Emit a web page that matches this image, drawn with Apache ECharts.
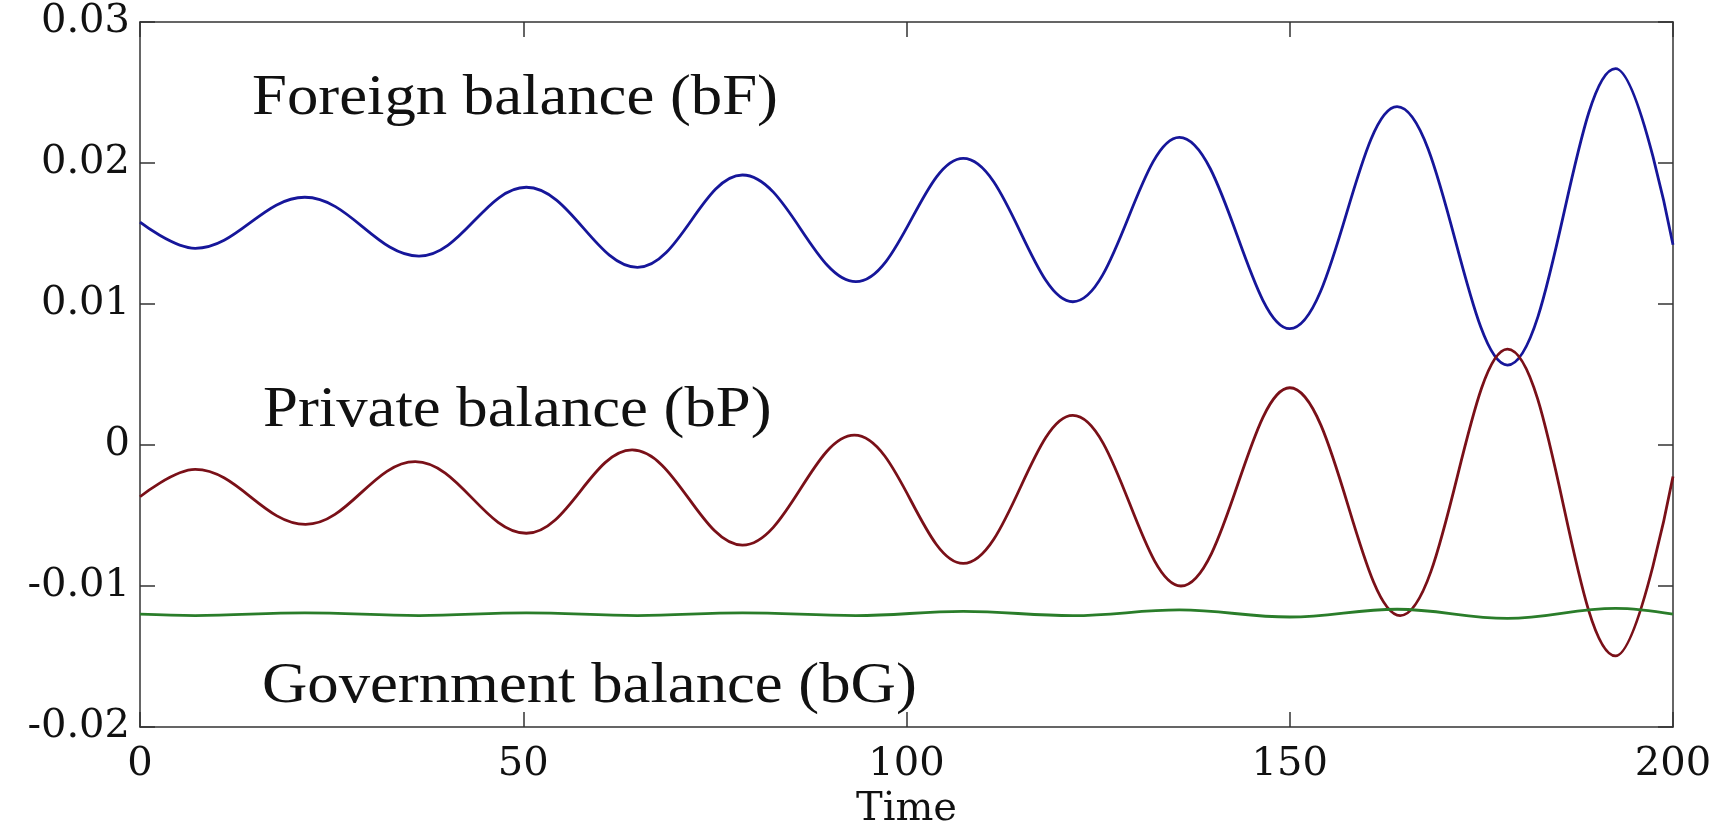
<!DOCTYPE html>
<html>
<head>
<meta charset="utf-8">
<title>Sectoral balances</title>
<script src="https://cdn.jsdelivr.net/npm/echarts@6/dist/echarts.min.js"></script>
<style>
  html, body { margin: 0; padding: 0; background: #fff; }
  #chart { width: 1721px; height: 826px; }
</style>
</head>
<body>
<div id="chart"></div>
<script>
// turning points: time, then balance
const timeF = [0, 7.2, 21.5, 36.4, 50.4, 64.9, 78.6, 93.4, 107.4, 121.7, 135.6, 150, 164, 178.4, 192.5, 200]
const foreign = [0.0158, 0.01395, 0.01757, 0.0134, 0.01828, 0.0126, 0.01915, 0.01158, 0.02033, 0.01016, 0.02182, 0.00825, 0.024, 0.00567, 0.0267, 0.0142]

const timeP = [0, 7.2, 21.6, 35.9, 50.4, 64.2, 78.6, 93.2, 107.4, 121.7, 135.8, 150, 164.4, 178.4, 192.5, 200]
const privateBal = [-0.00367, -0.00173, -0.00563, -0.00118, -0.00626, -0.00035, -0.0071, 0.0007, -0.0084, 0.0021, -0.01, 0.00406, -0.0121, 0.0068, -0.01496, -0.00224]

const timeG = [0, 7.2, 21.5, 36.4, 50.4, 64.9, 78.6, 93.4, 107.4, 121.7, 135.6, 150, 164, 178.4, 192.5, 200]
const government = [-0.012, -0.0121, -0.0119, -0.0121, -0.0119, -0.0121, -0.0119, -0.0121, -0.0118, -0.0121, -0.0117, -0.0122, -0.01165, -0.0123, -0.01158, -0.012]

const xTickLabels = ['0', '50', '100', '150', '200']
const yTickLabels = ['-0.02', '-0.01', '0', '0.01', '0.02', '0.03']

const pairs = (ts, vs) => ts.map((t, i) => [t, vs[i]])

const chart = echarts.init(document.getElementById('chart'))

const tickFont = {
  fontFamily: 'DejaVu Serif',
  fontSize: 40,
  color: '#111',
}

const frameLine = { show: true, onZero: false, lineStyle: { color: '#333', width: 1.5 } }
const frameTick = { inside: true, length: 15, lineStyle: { color: '#333', width: 1.5 } }

const lineCommon = {
  type: 'line',
  smooth: 0.38,
  showSymbol: false,
  symbol: 'none',
}

// in-plot labels, a bit stretched sideways like the original
const labelText = (text, x, y) => ({
  type: 'text',
  x: x,
  y: y,
  scaleX: 1.12,
  style: {
    text: text,
    fontFamily: 'Liberation Serif',
    fontSize: 56,
    fill: '#111',
    textAlign: 'left',
    textVerticalAlign: 'middle',
  },
})

chart.setOption({
  animation: false,
  grid: {
    left: 140,
    right: 48,
    top: 22,
    bottom: 99,
    outerBoundsMode: 'none',
    containLabel: false,
  },
  xAxis: [
    {
      type: 'value',
      position: 'bottom',
      min: 0,
      max: 200,
      interval: 50,
      name: 'Time',
      nameLocation: 'middle',
      nameGap: 61,
      nameTextStyle: { fontFamily: 'DejaVu Serif', fontSize: 40, color: '#111' },
      axisLine: frameLine,
      axisTick: frameTick,
      axisLabel: { ...tickFont, margin: 18, formatter: (v, i) => xTickLabels[i] },
      splitLine: { show: false },
    },
    {
      type: 'value',
      position: 'top',
      min: 0,
      max: 200,
      interval: 50,
      axisLine: frameLine,
      axisTick: frameTick,
      axisLabel: { show: false },
      splitLine: { show: false },
    },
  ],
  yAxis: [
    {
      type: 'value',
      position: 'left',
      min: -0.02,
      max: 0.03,
      interval: 0.01,
      axisLine: frameLine,
      axisTick: frameTick,
      axisLabel: { ...tickFont, margin: 10, formatter: (v, i) => yTickLabels[i] },
      splitLine: { show: false },
    },
    {
      type: 'value',
      position: 'right',
      min: -0.02,
      max: 0.03,
      interval: 0.01,
      axisLine: frameLine,
      axisTick: frameTick,
      axisLabel: { show: false },
      splitLine: { show: false },
    },
  ],
  series: [
    {
      ...lineCommon,
      name: 'Foreign balance (bF)',
      data: pairs(timeF, foreign),
      lineStyle: { color: '#16169a', width: 2.8 },
    },
    {
      ...lineCommon,
      name: 'Private balance (bP)',
      data: pairs(timeP, privateBal),
      lineStyle: { color: '#7a1018', width: 2.8 },
    },
    {
      ...lineCommon,
      name: 'Government balance (bG)',
      data: pairs(timeG, government),
      lineStyle: { color: '#2a7d2a', width: 2.8 },
    },
  ],
  graphic: [
    labelText('Foreign balance (bF)', 252, 99),
    labelText('Private balance (bP)', 263, 411),
    labelText('Government balance (bG)', 262, 687),
  ],
})
</script>
</body>
</html>
